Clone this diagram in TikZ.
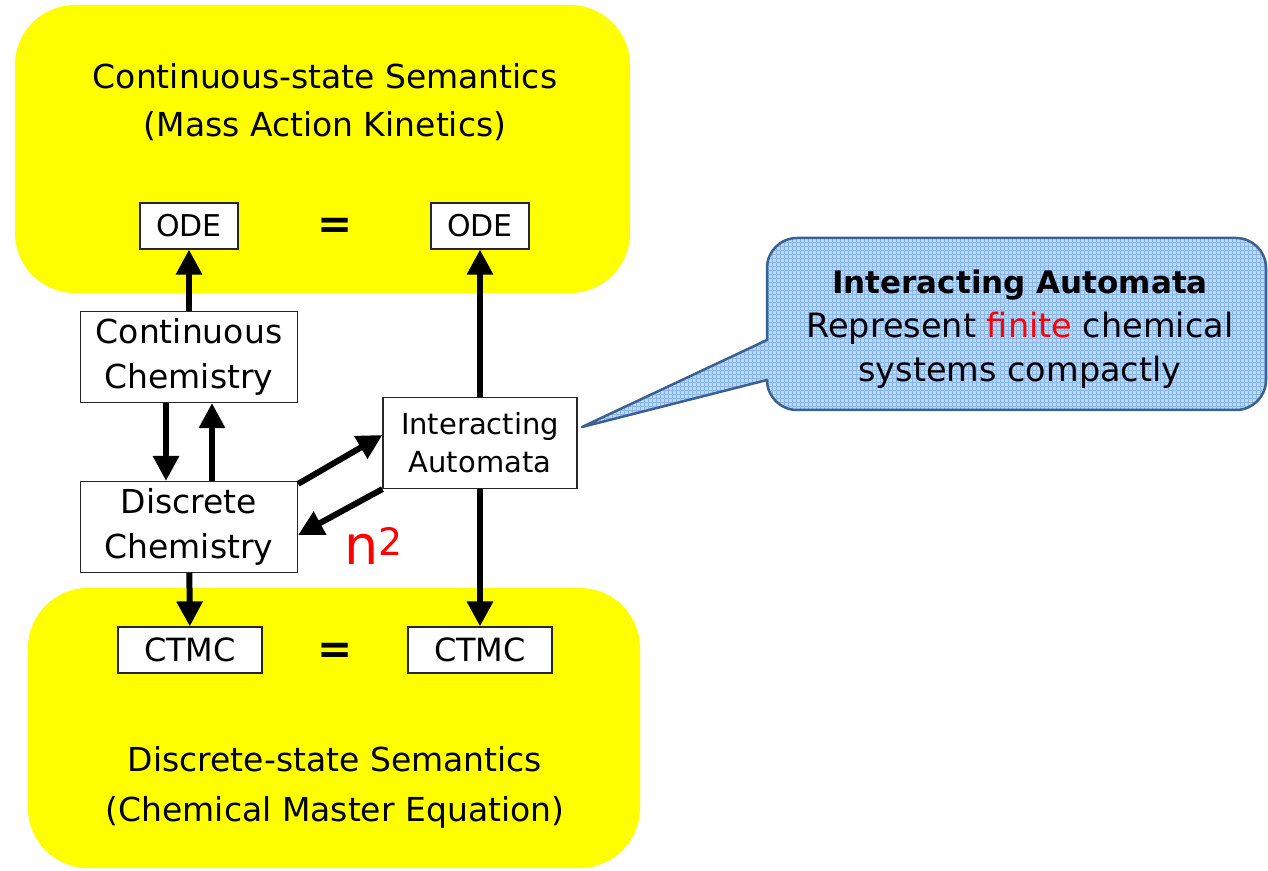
\documentclass[tikz,border=0pt]{standalone}
\usepackage{fontspec}
\setmainfont{DejaVu Sans}
\usetikzlibrary{arrows.meta}

\definecolor{semyellow}{RGB}{255,255,0}
\definecolor{calloutfill}{RGB}{190,214,242}
\definecolor{calloutgrid}{RGB}{140,182,230}
\definecolor{calloutline}{RGB}{60,96,144}

\begin{document}
\begin{tikzpicture}[x=1pt,y=1pt,
    box/.style={draw=black!85,line width=1.2pt,fill=white,align=center,inner sep=0pt},
    bigarrow/.style={line width=6pt,-{Triangle[length=25pt,width=25pt]}},
    semtext/.style={align=center,font=\fontsize{33}{48}\selectfont}]
  \useasboundingbox (0,0) rectangle (1268,870);

  % semantics regions
  \fill[semyellow,rounded corners=60] (15,577) rectangle (630,865);
  \fill[semyellow,rounded corners=60] (28,2) rectangle (640,282);
  \node[semtext] (contsem) at (325,768) {Continuous-state Semantics\\(Mass Action Kinetics)};
  \node[semtext,font=\fontsize{33}{50}\selectfont] (discsem) at (335,83) {Discrete-state Semantics\\(Chemical Master Equation)};

  % callout
  \begin{scope}
    \path[clip] (582,443) -- (767,530) -- (767,602) arc (180:90:30) -- (1236,632) arc (90:0:30)
      -- (1266,490) arc (0:-90:30) -- (797,460) arc (-90:-180:30) -- cycle;
    \fill[calloutfill] (560,440) rectangle (1268,640);
    \draw[calloutgrid,line width=0.7pt,step=4] (560,440) grid (1268,640);
  \end{scope}
  \draw[calloutline,line width=2.5pt,line join=round] (582,443) -- (767,530) -- (767,602) arc (180:90:30) -- (1236,632) arc (90:0:30)
    -- (1266,490) arc (0:-90:30) -- (797,460) arc (-90:-180:30) -- cycle;
  \node[align=center,font=\fontsize{33.5}{44}\selectfont] (note) at (1020,541)
    {{\fontsize{31}{44}\selectfont\textbf{Interacting Automata}}\\Represent \textcolor{red}{finite} chemical\\systems compactly};

  % boxes
  \node[box,minimum width=98,minimum height=46,font=\fontsize{30}{36}\selectfont] (odeL) at (189,644) {ODE};
  \node[box,minimum width=98,minimum height=46,font=\fontsize{30}{36}\selectfont] (odeR) at (480,644) {ODE};
  \node[font=\fontsize{42}{42}\selectfont\bfseries] (eqtop) at (335,642) {=};
  \node[box,minimum width=217,minimum height=91,font=\fontsize{33}{45}\selectfont] (cc) at (189,513) {Continuous\\Chemistry};
  \node[box,minimum width=217,minimum height=91,font=\fontsize{33}{45}\selectfont] (dc) at (189,343) {Discrete\\Chemistry};
  \node[box,minimum width=194,minimum height=91,font=\fontsize{29}{38}\selectfont] (ia) at (480,427) {Interacting\\Automata};
  \node[box,minimum width=144,minimum height=46,font=\fontsize{32}{36}\selectfont] (ctmcL) at (190,220) {CTMC};
  \node[box,minimum width=144,minimum height=46,font=\fontsize{32}{36}\selectfont] (ctmcR) at (480,220) {CTMC};
  \node[font=\fontsize{42}{42}\selectfont\bfseries] (eqbot) at (335,217) {=};
  \node[text=red,font=\fontsize{54}{54}\selectfont] (cost) at (374,324) {n\textsuperscript{2}};

  % arrows
  \draw[bigarrow] (cc) -- (odeL);
  \draw[bigarrow] ([xshift=-23]cc.south) -- ([xshift=-23]dc.north);
  \draw[bigarrow] ([xshift=23]dc.north) -- ([xshift=23]cc.south);
  \draw[bigarrow] (dc) -- (ctmcL);
  \draw[bigarrow] (ia) -- (odeR);
  \draw[bigarrow] (ia) -- (ctmcR);
  \draw[bigarrow] ([yshift=-3]dc.north east) -- ([yshift=8]ia.west);
  \draw[bigarrow] (ia.south west) -- ([yshift=-8]dc.east);
\end{tikzpicture}
\end{document}
